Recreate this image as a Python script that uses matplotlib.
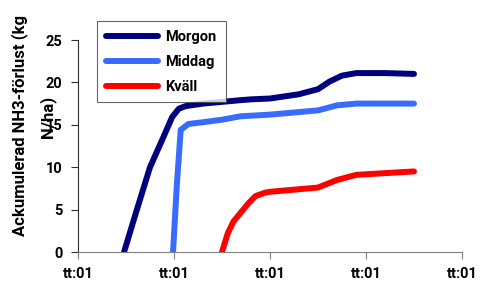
import matplotlib
matplotlib.use("Agg")
import matplotlib.pyplot as plt

plt.rcParams['font.family'] = ['Roboto', 'DejaVu Sans']
plt.rcParams['font.weight'] = 'bold'

series_names = ["Morgon", "Middag", "Kväll"]
colors = ["#000080", "#3A6BFF", "#FF0000"]

morgon_x = [0.48, 0.60, 0.75, 0.88, 0.98, 1.05, 1.12, 1.30, 1.69, 1.80, 2.00, 2.30, 2.50, 2.62, 2.75, 2.90, 3.20, 3.50]
morgon_y = [0.0, 4.5, 10.0, 13.3, 15.9, 16.9, 17.2, 17.5, 17.9, 18.0, 18.1, 18.6, 19.2, 20.1, 20.8, 21.1, 21.1, 21.0]

middag_x = [0.99, 1.03, 1.07, 1.15, 1.30, 1.50, 1.69, 2.00, 2.50, 2.70, 2.90, 3.50]
middag_y = [0.0, 8.0, 14.4, 15.1, 15.3, 15.6, 16.0, 16.2, 16.7, 17.3, 17.5, 17.5]

kvall_x = [1.50, 1.56, 1.62, 1.70, 1.78, 1.85, 1.95, 2.00, 2.50, 2.70, 2.90, 3.50]
kvall_y = [0.0, 2.2, 3.6, 4.7, 5.8, 6.6, 7.0, 7.1, 7.6, 8.5, 9.1, 9.5]

x_ticks = [0, 1, 2, 3, 4]
x_tick_labels = ["tt:01"] * 5
y_ticks = [0, 5, 10, 15, 20, 25]

W, H = 481, 283
fig = plt.figure(figsize=(W / 100, H / 100), dpi=100)
ax = fig.add_axes([78 / W, 1 - 252 / H, (462 - 78) / W, (252 - 40) / H])

for name, c, xs, ys in zip(series_names, colors,
                           [morgon_x, middag_x, kvall_x],
                           [morgon_y, middag_y, kvall_y]):
    ax.plot(xs, ys, color=c, lw=4.3, label=name,
            solid_capstyle='round', solid_joinstyle='round')

ax.set_xlim(0, 4)
ax.set_ylim(0, 25)
ax.set_xticks(x_ticks)
ax.set_xticklabels(x_tick_labels, fontweight='bold')
ax.set_yticks(y_ticks)
ax.set_yticklabels([str(v) for v in y_ticks], fontweight='bold')
for s in ['top', 'right']:
    ax.spines[s].set_visible(False)
ax.spines['left'].set_color('#303030')
ax.spines['bottom'].set_color('#808080')
ax.tick_params(axis='y', length=5, width=0.8, color='#303030', labelsize=10.5, pad=6)
ax.tick_params(axis='x', length=5, width=0.8, color='#808080', labelsize=10.5, pad=6)

fig.text(20 / W, 1 - 125 / H, "Ackumulerad NH3-förlust (kg", rotation=90,
         ha='center', va='center', fontsize=12, fontweight='bold')
fig.text(48 / W, 1 - 117 / H, "N/ha)", rotation=90,
         ha='center', va='center', fontsize=12, fontweight='bold')

leg = ax.legend(loc='upper left', bbox_to_anchor=(97 / W, 1 - 21 / H),
                bbox_transform=fig.transFigure, borderaxespad=0,
                frameon=True, fancybox=False, handlelength=3.6,
                labelspacing=0.75, borderpad=0.6, handletextpad=0.5,
                prop={'size': 10.5, 'weight': 'bold'})
leg.get_frame().set_edgecolor('#404040')
leg.get_frame().set_linewidth(0.8)

fig.savefig("out.png", dpi=100)
